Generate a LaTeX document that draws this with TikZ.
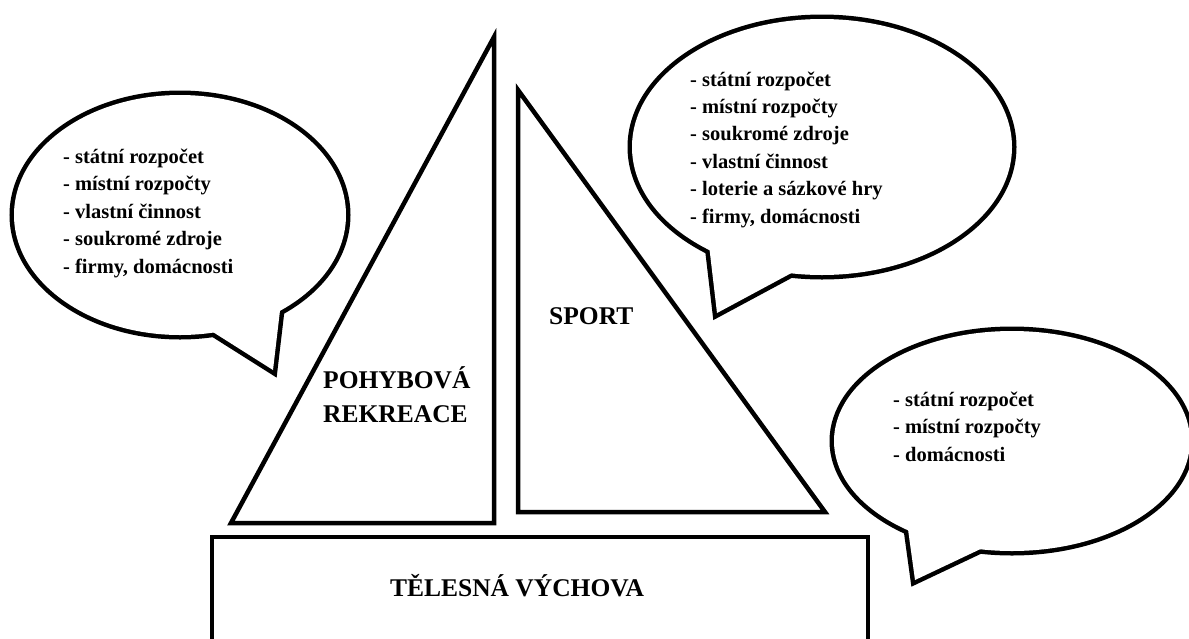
\documentclass[tikz,border=0pt]{standalone}
\usepackage{fontspec}
\setmainfont{Liberation Serif}
\tikzset{
 sailline/.style={draw, line width=4.5pt, line join=miter},
 bubbleline/.style={draw, line width=9pt, line join=miter},
 bubblefill/.style={fill=white},
 itemtext/.style={anchor=base west, inner sep=0pt, font=\bfseries\fontsize{20.5}{24}\selectfont},
 headtext/.style={inner sep=0pt, font=\bfseries\fontsize{25.5}{30}\selectfont}
}
\begin{document}
\begin{tikzpicture}[x=1pt, y=-1pt]
 \useasboundingbox (0,0) rectangle (1189,638);
 \clip (0,0) rectangle (1189,638);
 \draw[sailline] (494,37)--(494,523)--(231,523)--cycle;
 \draw[sailline] (518,90)--(518,512)--(825,512)--cycle;
 \draw[sailline] (212,537) rectangle (868,660);
 \foreach \s in {bubbleline,bubblefill}{
  \path[\s] (180,215) ellipse [x radius=166, y radius=120];
  \path[\s] (205,327)--(273,370)--(281,302)--(240,280)--cycle;
  \path[\s] (822,147) ellipse [x radius=190, y radius=128];
  \path[\s] (709,245)--(717,313)--(797,270)--(760,240)--cycle;
  \path[\s] (1012,441) ellipse [x radius=178, y radius=110];
  \path[\s] (907,522)--(915,580)--(989,545)--(950,500)--cycle;
 }
 \foreach \t [count=\i] in {{- státní rozpočet},{- místní rozpočty},{- vlastní činnost},{- soukromé zdroje},{- firmy, domácnosti}}
  \node[itemtext] (a\i) at (63,{163+27.5*(\i-1)}) {\t};
 \foreach \t [count=\i] in {{- státní rozpočet},{- místní rozpočty},{- soukromé zdroje},{- vlastní činnost},{- loterie a sázkové hry},{- firmy, domácnosti}}
  \node[itemtext] (b\i) at (690,{86+27.4*(\i-1)}) {\t};
 \foreach \t [count=\i] in {{- státní rozpočet},{- místní rozpočty},{- domácnosti}}
  \node[itemtext] (c\i) at (893,{406+27.5*(\i-1)}) {\t};
 \node[headtext, anchor=base west] (sport) at (549,324) {SPORT};
 \node[headtext, anchor=base west] (pohyb) at (323,388) {POHYBOVÁ};
 \node[headtext, anchor=base west] (rekreace) at (323,422) {REKREACE};
 \node[headtext, anchor=base] (tv) at (517,596) {TĚLESNÁ VÝCHOVA};
\end{tikzpicture}
\end{document}
